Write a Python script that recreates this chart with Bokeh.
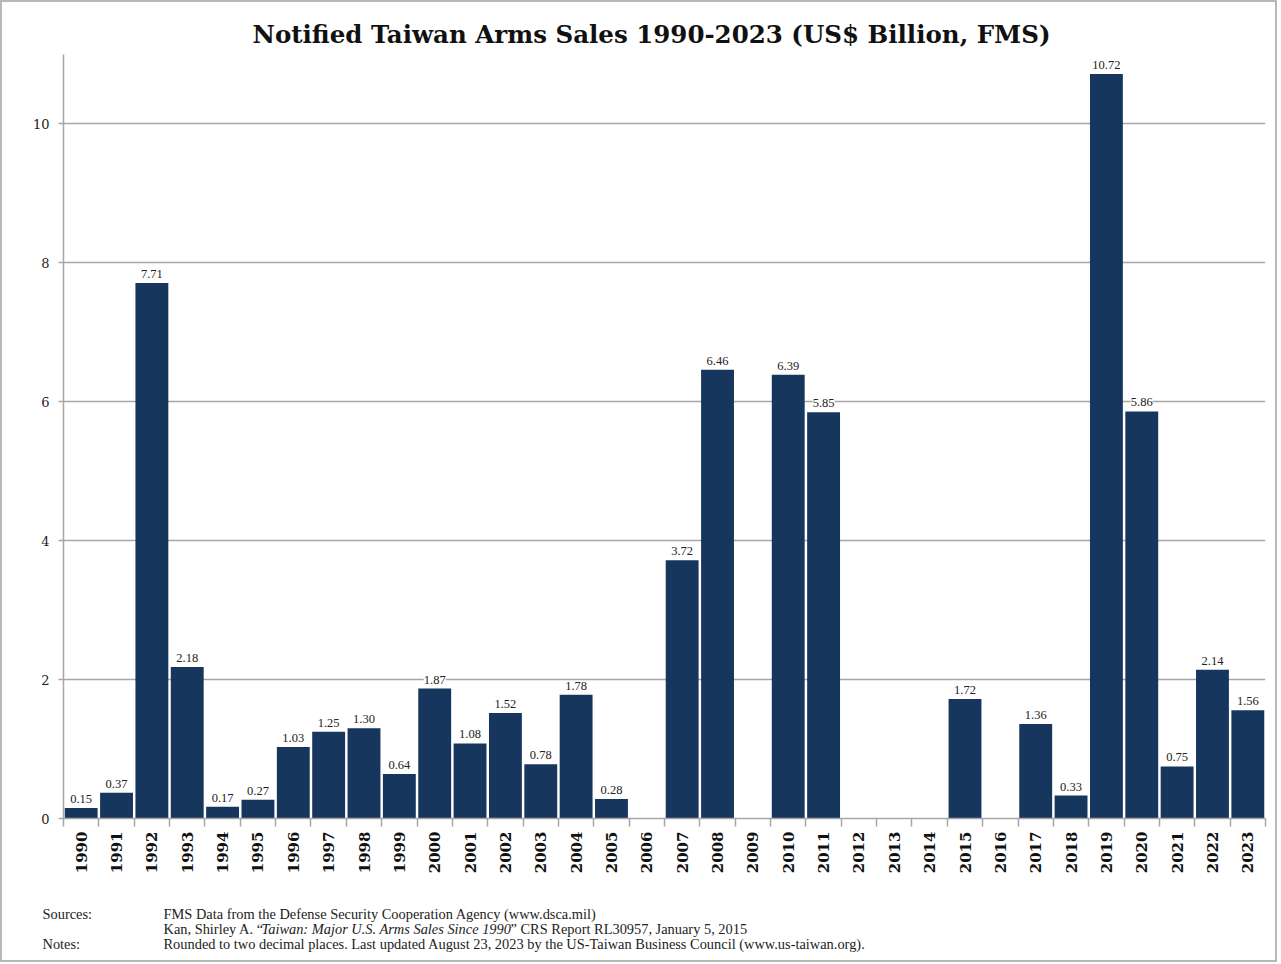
from bokeh.plotting import figure
from bokeh.models import ColumnDataSource, LabelSet, FixedTicker, Range1d, Title
from bokeh.layouts import column
from bokeh.core.properties import value
from bokeh.embed import file_html
from bokeh.resources import INLINE
from math import pi

years = list(range(1990, 2024))
values = [0.15, 0.37, 7.71, 2.18, 0.17, 0.27, 1.03, 1.25, 1.30, 0.64,
          1.87, 1.08, 1.52, 0.78, 1.78, 0.28, 0.0, 3.72, 6.46, 0.0,
          6.39, 5.85, 0.0, 0.0, 0.0, 1.72, 0.0, 1.36, 0.33, 10.72,
          5.86, 0.75, 2.14, 1.56]
y_ticks = [0, 2, 4, 6, 8, 10]

title_text = "Notified Taiwan Arms Sales 1990-2023 (US$ Billion, FMS)"
src_head = "Sources:"
src1 = "FMS Data from the Defense Security Cooperation Agency (www.dsca.mil)"
src2a = "Kan, Shirley A. \u201c"
src2b = "Taiwan: Major U.S. Arms Sales Since 1990"
src2c = "\u201d CRS Report RL30957, January 5, 2015"
note_head = "Notes:"
note = "Rounded to two decimal places. Last updated August 23, 2023 by the US-Taiwan Business Council (www.us-taiwan.org)."

SERIF = "DejaVu Serif"
FOOT = "Liberation Serif"
NAVY = "#17365d"
GRID = "#a6a6a6"

W, H = 1273, 878
p = figure(width=W, height=H, output_backend="svg", toolbar_location=None,
           x_range=Range1d(years[0] - 0.5, years[-1] + 0.5), y_range=Range1d(0, 11),
           min_border_left=61, min_border_top=52, min_border_right=10, min_border_bottom=62)
p.frame_align = False
p.outline_line_color = None
p.title = Title(text=title_text, align="left", offset=189, standoff=12,
                text_font=SERIF, text_font_style="bold", text_font_size="24.5px",
                text_color="#111111")

src = ColumnDataSource(dict(x=years, top=values))
p.vbar(x="x", top="top", width=0.93, source=src, fill_color=NAVY, line_color=None)

lab_x = [y for y, v in zip(years, values) if v > 0]
lab_v = [v for v in values if v > 0]
lsrc = ColumnDataSource(dict(x=lab_x, y=lab_v, t=["%.2f" % v for v in lab_v]))
p.add_layout(LabelSet(x="x", y="y", text="t", source=lsrc, text_align="center",
                      text_baseline="bottom", y_offset=5, text_font=SERIF,
                      text_font_size="12.5px", text_color="#222222",
                      background_fill_color="white", background_fill_alpha=1.0))

# axes
p.xaxis.ticker = FixedTicker(ticks=years, minor_ticks=[y - 0.5 for y in years] + [years[-1] + 0.5])
p.xaxis.major_label_overrides = {y: str(y) for y in years}
p.xaxis.major_label_orientation = pi / 2
p.xaxis.major_tick_line_color = None
p.xaxis.major_tick_in = 0
p.xaxis.major_tick_out = 0
p.xaxis.minor_tick_in = 0
p.xaxis.minor_tick_out = 8
p.xaxis.minor_tick_line_color = GRID
p.xaxis.minor_tick_line_width = 1.5
p.xaxis.major_label_standoff = 5
p.xaxis.major_label_text_font = SERIF
p.xaxis.major_label_text_font_style = "bold"
p.xaxis.major_label_text_font_size = "15px"
p.xaxis.major_label_text_color = "#111111"
p.xaxis.axis_line_color = GRID
p.xaxis.axis_line_width = 1.5

p.yaxis.ticker = FixedTicker(ticks=y_ticks)
p.yaxis.major_tick_in = 0
p.yaxis.major_tick_out = 5
p.yaxis.minor_tick_line_color = None
p.yaxis.major_tick_line_color = GRID
p.yaxis.major_tick_line_width = 1.5
p.yaxis.axis_line_color = GRID
p.yaxis.axis_line_width = 1.5
p.yaxis.major_label_text_font = SERIF
p.yaxis.major_label_text_font_size = "13px"
p.yaxis.major_label_text_color = "#222222"
p.yaxis.major_label_standoff = 9

p.xgrid.grid_line_color = None
p.ygrid.grid_line_color = GRID
p.ygrid.grid_line_width = 1.5

# footer (a small text panel in pixel coordinates)
FH = 80
f = figure(width=W, height=FH, output_backend="svg", toolbar_location=None,
           x_range=Range1d(0, W), y_range=Range1d(FH, 0),
           min_border=0, min_border_left=0, min_border_right=0,
           min_border_top=0, min_border_bottom=0)
f.frame_align = False
f.axis.visible = False
f.grid.visible = False
f.outline_line_color = None

FS = "14.4px"
fx = [40, 161, 40, 161, 161]
fy = [33, 33, 63, 48, 63]
ft = [src_head, src1, note_head, src2a, note]
f.text(x=fx, y=fy, text=ft, text_font=value(FOOT), text_font_size=value(FS),
       text_baseline="middle", text_align="left", text_color="#222222")
f.text(x=[259], y=[48], text=[src2b], text_font=value(FOOT), text_font_size=value(FS),
       text_font_style="italic", text_baseline="middle", text_align="left", text_color="#222222")
f.text(x=[508], y=[48], text=[src2c], text_font=value(FOOT), text_font_size=value(FS),
       text_baseline="middle", text_align="left", text_color="#222222")

layout = column(p, f, spacing=0, styles={"border": "2px solid #b8b8b8"})
open("out.html", "w").write(file_html(layout, INLINE))
